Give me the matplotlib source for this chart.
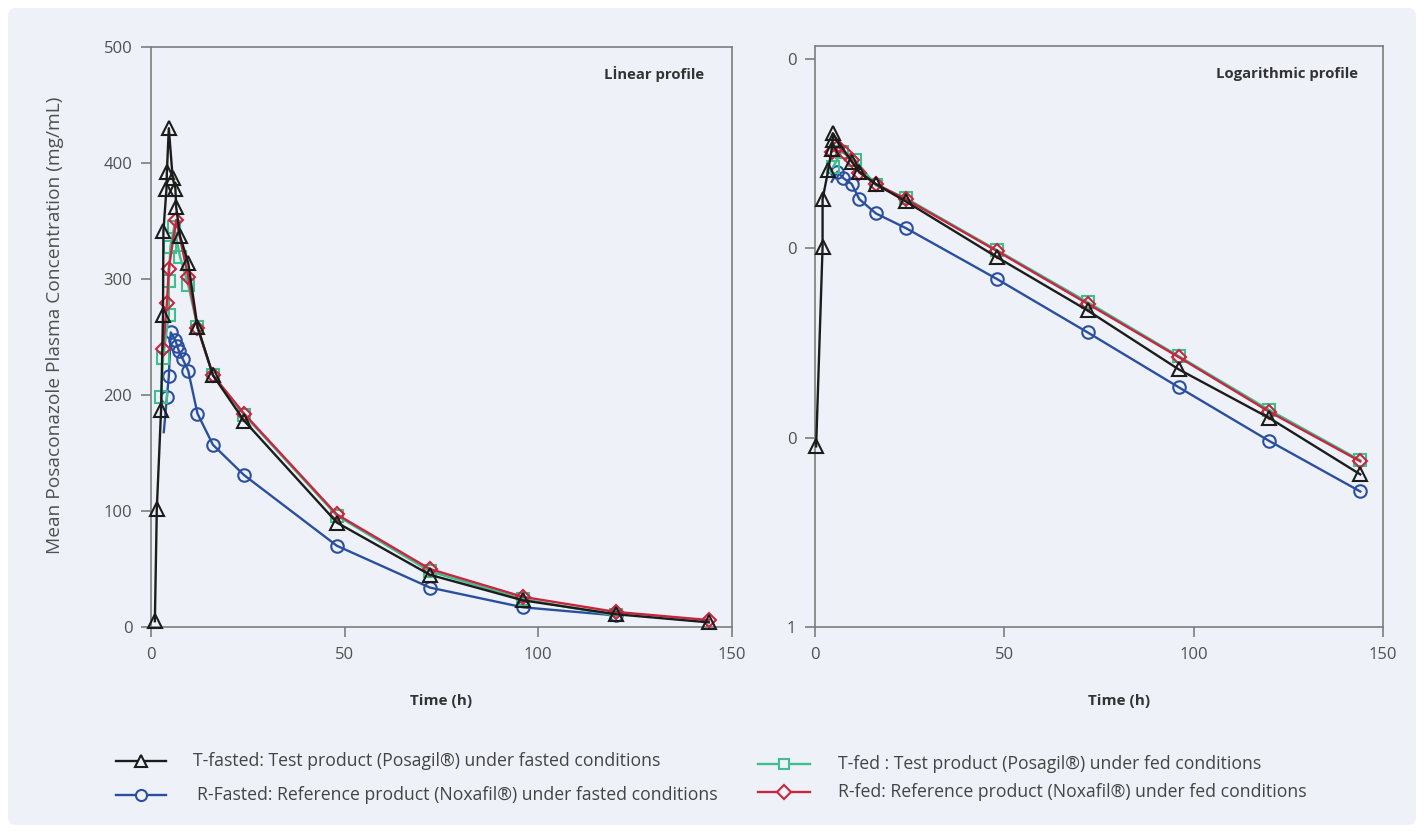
import matplotlib
matplotlib.use('Agg')
import matplotlib.pyplot as plt
from matplotlib.patches import FancyBboxPatch
from matplotlib.ticker import NullLocator

plt.rcParams['font.family'] = ['Open Sans', 'DejaVu Sans']

# ---------------- data: linear panel ----------------
lin_tfast_t = [1.0, 1.5, 2.6, 3.1, 3.2, 4.0, 4.1, 4.6, 5.6, 6.3, 6.5, 7.5, 9.6, 12, 16, 24, 48, 72, 96, 120, 144]
lin_tfast_c = [5, 102, 187, 269, 341, 378, 392, 430, 387, 378, 362, 337, 314, 259, 217, 178, 90, 45, 23, 11, 4]

lin_rfast_t = [3.3, 4.1, 4.6, 5.1, 6.3, 6.8, 7.2, 8.2, 9.6, 12, 16, 24, 48, 72, 96, 120]
lin_rfast_c = [168, 198, 216, 254, 247, 242, 238, 231, 221, 184, 157, 131, 70, 34, 17, 10]

lin_tfed_t = [2.6, 3.1, 4.6, 4.6, 5.0, 6.0, 7.5, 9.6, 12, 16, 24, 48, 72, 96, 120]
lin_tfed_c = [198, 232, 269, 298, 328, 345, 319, 295, 259, 217, 183, 96, 48, 24, 10]

lin_rfed_t = [3.1, 4.1, 4.6, 6.5, 9.6, 12, 16, 24, 48, 72, 96, 120, 144]
lin_rfed_c = [240, 279, 309, 351, 302, 258, 217, 184, 97, 50, 26, 13, 6]

# ---------------- data: logarithmic panel ----------------
log_tfast_t = [0.3, 2.0, 2.0, 3.5, 4.4, 4.7, 4.7, 9.7, 11.7, 16, 24, 48, 72, 96, 120, 144]
log_tfast_c = [9, 102, 182, 259, 334, 374, 405, 287, 254, 219, 177, 90, 47, 23, 12.7, 6.4]

log_rfast_t = [4.4, 5.9, 7.5, 9.7, 11.7, 16.1, 24, 48, 72, 96, 120, 144]
log_rfast_c = [225, 254, 235, 219, 182, 153, 128, 69, 36, 18.5, 9.6, 5.2]

log_tfed_t = [4.8, 7.0, 10.6, 16.1, 24, 48, 72, 96, 120, 144]
log_tfed_c = [270, 324, 293, 215, 184, 98, 52, 27, 14, 7.6]

log_rfed_t = [4.4, 6.2, 7.9, 9.7, 11.7, 16.1, 24, 48, 72, 96, 120, 144]
log_rfed_c = [324, 344, 318, 293, 251, 219, 182, 97, 51, 26.7, 13.7, 7.5]

x_ticks = [0, 50, 100, 150]
lin_y_ticks = [0, 100, 200, 300, 400, 500]
log_y_ticks = [1, 10, 100, 1000]
log_y_labels = ['1', '0', '0', '0']

legend_labels = [
    'T-fasted: Test product (Posagil®) under fasted conditions',
    'R-Fasted: Reference product (Noxafil®) under fasted conditions',
    'T-fed : Test product (Posagil®) under fed conditions',
    'R-fed: Reference product (Noxafil®) under fed conditions',
]

# ---------------- styling ----------------
BLACK = '#1c1c1c'
BLUE = '#2b4f9f'
GREEN = '#3dbf8e'
RED = '#c8263e'
SPINE = '#7d7d7d'
TXT = '#505050'

W, H = 1424, 833
fig = plt.figure(figsize=(W / 100, H / 100), dpi=100, facecolor='white')
bg = fig.add_axes([0, 0, 1, 1], zorder=0)
bg.set_xlim(0, W)
bg.set_ylim(H, 0)
bg.axis('off')
bg.add_patch(FancyBboxPatch((8, 8), W - 16, H - 16,
                            boxstyle='round,pad=0,rounding_size=8',
                            fc='#eef2f8', ec='none'))

ax1 = fig.add_axes([151 / W, 1 - 627 / H, 581 / W, 580 / H], zorder=1)
ax2 = fig.add_axes([815 / W, 1 - 627 / H, 568 / W, 581 / H], zorder=1)

for ax in (ax1, ax2):
    ax.set_facecolor('none')
    for s in ax.spines.values():
        s.set_color(SPINE)
        s.set_linewidth(1.2)
    ax.tick_params(direction='out', length=7.5, width=1.2, color=SPINE,
                   labelcolor=TXT, labelsize=12)
    ax.tick_params(axis='y', pad=6)
    ax.tick_params(axis='x', pad=7)
    ax.set_xlim(0, 150)
    ax.set_xticks(x_ticks)

ax1.set_ylim(0, 500)
ax1.set_yticks(lin_y_ticks)

ax2.set_yscale('log')
ax2.set_ylim(1, 1173)
ax2.set_yticks(log_y_ticks)
ax2.set_yticklabels(log_y_labels)
ax2.yaxis.set_minor_locator(NullLocator())


def series(ax, t, c, color, marker, ms, skip_first=False, z=2):
    mk = list(range(1, len(t))) if skip_first else None
    ax.plot(t, c, color=color, lw=1.7, marker=marker, ms=ms, mfc='none',
            mec=color, mew=1.5, markevery=mk, zorder=z, clip_on=False)


series(ax1, lin_rfast_t, lin_rfast_c, BLUE, 'o', 9, skip_first=True, z=2)
series(ax1, lin_tfed_t, lin_tfed_c, GREEN, 's', 8.5, z=3)
series(ax1, lin_rfed_t, lin_rfed_c, RED, 'D', 7.5, z=4)
series(ax1, lin_tfast_t, lin_tfast_c, BLACK, '^', 10, z=5)

series(ax2, log_rfast_t, log_rfast_c, BLUE, 'o', 9, skip_first=True, z=2)
series(ax2, log_tfed_t, log_tfed_c, GREEN, 's', 8.5, z=3)
series(ax2, log_rfed_t, log_rfed_c, RED, 'D', 7.5, z=4)
series(ax2, log_tfast_t, log_tfast_c, BLACK, '^', 10, z=5)

# titles inside panels
bg.text(704, 74, 'Lİnear profile', ha='right', va='center', fontsize=10.7,
        fontweight='bold', color='#333333')
bg.text(1358, 74, 'Logarithmic profile', ha='right', va='center', fontsize=10.7,
        fontweight='bold', color='#333333')

# axis labels
bg.text(441, 701, 'Time (h)', ha='center', va='center', fontsize=11,
        fontweight='bold', color='#333333')
bg.text(1119, 701, 'Time (h)', ha='center', va='center', fontsize=11,
        fontweight='bold', color='#333333')
bg.text(55, 325, 'Mean Posaconazole Plasma Concentration (mg/mL)', ha='center',
        va='center', rotation=90, fontsize=13.8, color=TXT)

# legend (manual)
leg_items = [
    (116, 166, 761, 193, BLACK, '^', 9, legend_labels[0]),
    (116, 166, 795, 197, BLUE, 'o', 8, legend_labels[1]),
    (758, 810, 764, 838, GREEN, 's', 7.5, legend_labels[2]),
    (758, 810, 792, 838, RED, 'D', 7, legend_labels[3]),
]
for x0, x1, y, xt, col, mk, ms, lab in leg_items:
    bg.plot([x0, x1], [y, y], color=col, lw=1.7)
    bg.plot([(x0 + x1) / 2], [y], color=col, marker=mk, ms=ms, mfc='#eef2f8',
            mec=col, mew=1.5)
    bg.text(xt, y, lab, ha='left', va='center', fontsize=12.7, color='#444444')

fig.savefig('out.png', dpi=100, facecolor='white')
